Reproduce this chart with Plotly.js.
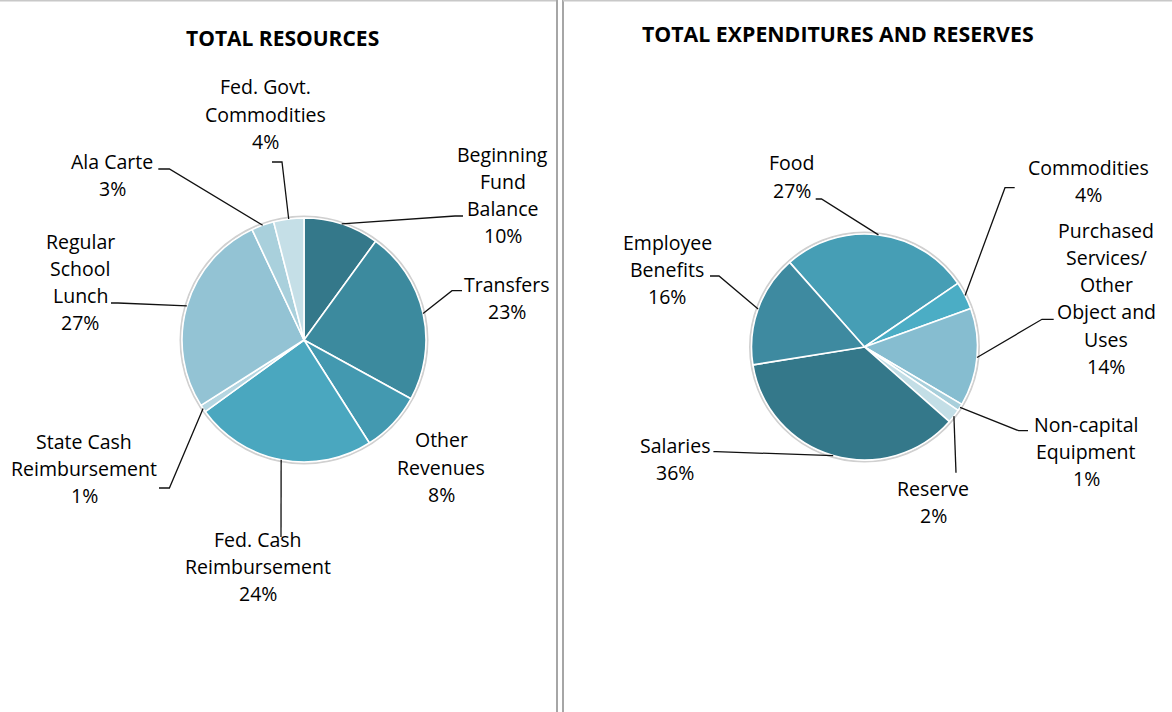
<!DOCTYPE html>
<html>
<head>
<meta charset="utf-8">
<script src="https://cdn.plot.ly/plotly-3.0.1.min.js"></script>
<style>html,body{margin:0;padding:0;background:#fff;}#chart{width:1172px;height:712px;}</style>
</head>
<body>
<div id="chart"></div>
<script>
// ---------- DATA ----------
const resCategories = ['Beginning Fund Balance','Transfers','Other Revenues','Fed. Cash Reimbursement','State Cash Reimbursement','Regular School Lunch','Ala Carte','Fed. Govt. Commodities'];
const resLabelText  = ['Beginning<br>Fund<br>Balance','Transfers','Other<br>Revenues','Fed. Cash<br>Reimbursement','State Cash<br>Reimbursement','Regular<br>School<br>Lunch','Ala Carte','Fed. Govt.<br>Commodities'];
const resValues     = [10, 23, 8, 24, 1, 27, 3, 4];

const expCategories = ['Food','Commodities','Purchased Services/Other Object and Uses','Non-capital Equipment','Reserve','Salaries','Employee Benefits'];
const expLabelText  = ['Food','Commodities','Purchased<br>Services/<br>Other<br>Object and<br>Uses','Non-capital<br>Equipment','Reserve','Salaries','Employee<br>Benefits'];
const expValues     = [27, 4, 14, 1, 2, 36, 16];

const titles = ['TOTAL RESOURCES', 'TOTAL EXPENDITURES AND RESERVES'];

// ---------- STYLE / LAYOUT ----------
const W = 1172, H = 712;
const FONT = 'Open Sans, sans-serif';
const LINE_H = 27.3;
const resColors = ['#34788A','#3C8A9E','#4399B0','#4AA7BF','#B5D6E1','#93C3D4','#A9D0DC','#C5DFE7'];
const expColors = ['#469EB5','#4BADC5','#86BDD0','#A8CFDB','#C3DEE6','#34788A','#3E8AA0'];

const pies = [
  { values: resValues, names: resCategories, text: resLabelText, colors: resColors,
    cx: 304, cy: 340, r: 122, rotation: 0, title: titles[0], titlePos: [282, 38], titleSize: 21,
    labelPos: [[502.5,154],[507,284],[441,440],[257.6,539],[84,441],[80,241],[112,161],[265.5,87]],
    leaders: [[[455,216],[463,216]], [[452,290.7],[462,290.7]], null, [[281,537]], [[169.4,488],[159,488]],
              [[118,303],[111,303]], [[169.4,169],[158.3,169]], [[282,162],[272,162]]] },
  { values: expValues, names: expCategories, text: expLabelText, colors: expColors,
    cx: 864.5, cy: 347, r: 113, rotation: -41.5, title: titles[1], titlePos: [838, 33], titleSize: 21.3,
    labelPos: [[792,163],[1088,167],[1106,230],[1086,424],[933,488],[675,445],[667,242]],
    leaders: [[[821.5,199],[815.7,199]], [[1005,187.7],[1014.7,187.7]], [[1042,319.3],[1053.7,319.3]],
              [[1018.6,430.7],[1028,430.7]], [[956,472.7]], [[716,451.7],[713.4,451.7]], [[719,276],[710,276]]] }
];

const px = x => x / W;
const py = y => 1 - y / H;

const data = [];
const annotations = [];
const shapes = [];

// panel borders
shapes.push({type:'line', xref:'paper', yref:'paper', x0:px(0), x1:px(557), y0:py(0.7), y1:py(0.7), line:{color:'#C8C8C8', width:1.5}});
shapes.push({type:'line', xref:'paper', yref:'paper', x0:px(557), x1:px(557), y0:py(0), y1:py(H), line:{color:'#A6A6A6', width:2}});
shapes.push({type:'line', xref:'paper', yref:'paper', x0:px(563), x1:px(563), y0:py(0), y1:py(H), line:{color:'#A6A6A6', width:2}});
shapes.push({type:'line', xref:'paper', yref:'paper', x0:px(563), x1:px(W), y0:py(0.7), y1:py(0.7), line:{color:'#C8C8C8', width:1.5}});

pies.forEach(p => {
  data.push({
    type: 'pie', values: p.values, labels: p.names, sort: false, direction: 'clockwise',
    rotation: p.rotation, textinfo: 'none', hoverinfo: 'label+percent', showlegend: false,
    marker: { colors: p.colors, line: { color: '#FFFFFF', width: 1.6 } },
    domain: { x: [px(p.cx - p.r), px(p.cx + p.r)], y: [py(p.cy + p.r), py(p.cy - p.r)] }
  });
  // soft outer edge
  shapes.push({type:'circle', layer:'below', xref:'paper', yref:'paper',
    x0: px(p.cx - p.r - 1.5), x1: px(p.cx + p.r + 1.5), y0: py(p.cy + p.r + 1.5), y1: py(p.cy - p.r - 1.5),
    line: {color:'#D0D0D0', width:2}, fillcolor:'#FFFFFF'});

  annotations.push({xref:'paper', yref:'paper', x: px(p.titlePos[0]), y: py(p.titlePos[1]),
    xanchor:'center', yanchor:'middle', showarrow:false, text: '<b>' + p.title + '</b>',
    font: {family: FONT, size: p.titleSize, color: '#000000'}});

  const total = p.values.reduce((a, b) => a + b, 0);
  let cum = 0;
  p.values.forEach((v, i) => {
    const mid = (p.rotation + (cum + v / 2) / total * 360) * Math.PI / 180;
    cum += v;
    const pct = Math.round(v / total * 100) + '%';
    const lines = p.text[i].split('<br>').concat([pct]);
    const [lx, ly] = p.labelPos[i];
    lines.forEach((t, k) => {
      annotations.push({xref:'paper', yref:'paper', x: px(lx), y: py(ly + k * LINE_H),
        xanchor:'center', yanchor:'middle', showarrow:false, text: t,
        font: {family: FONT, size: 19.5, color: '#000000'}});
    });
    if (p.leaders[i]) {
      const sx = p.cx + p.r * Math.sin(mid);
      const sy = p.cy - p.r * Math.cos(mid);
      let path = 'M ' + px(sx) + ',' + py(sy);
      p.leaders[i].forEach(pt => { path += ' L ' + px(pt[0]) + ',' + py(pt[1]); });
      shapes.push({type:'path', xref:'paper', yref:'paper', path: path, line: {color:'#111111', width:1.3}});
    }
  });
});

const layout = {
  width: W, height: H, margin: {l:0, r:0, t:0, b:0},
  paper_bgcolor: '#FFFFFF', plot_bgcolor: '#FFFFFF',
  showlegend: false, annotations: annotations, shapes: shapes,
  font: {family: FONT}
};

Plotly.newPlot('chart', data, layout, {displayModeBar: false, staticPlot: true});
</script>
</body>
</html>
